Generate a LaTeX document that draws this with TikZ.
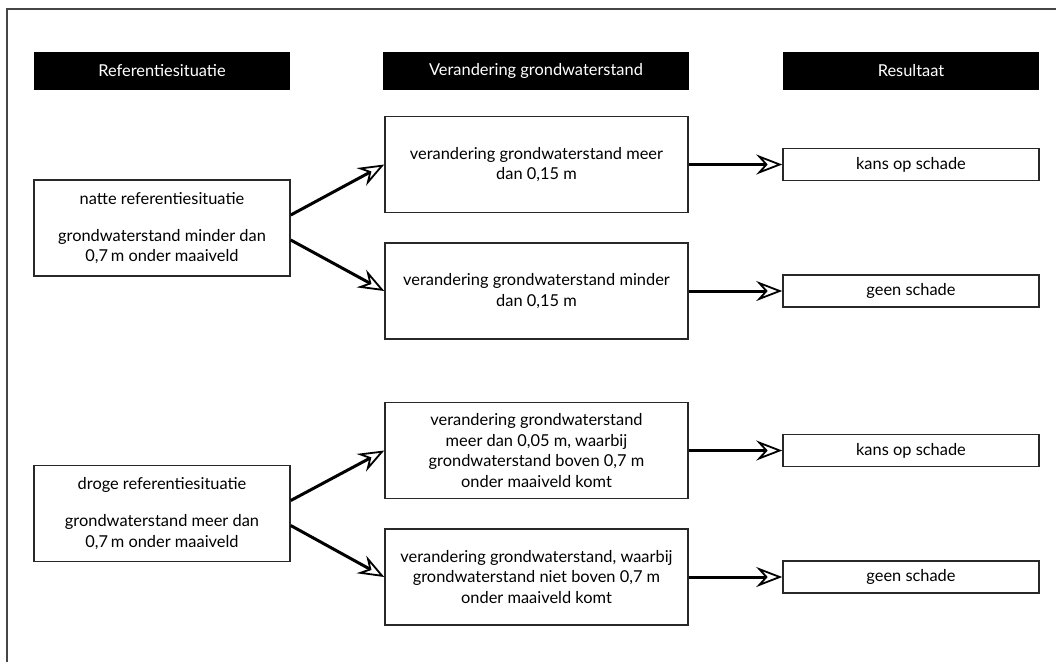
\documentclass[tikz,border=0pt]{standalone}
\usepackage{fontspec}
\setmainfont{Lato}
\usetikzlibrary{arrows.meta,positioning}
\definecolor{framegray}{RGB}{70,70,70}
\definecolor{boxline}{RGB}{40,40,40}

\begin{document}
\begin{tikzpicture}[x=0.5pt,y=-0.5pt,
    headbar/.style={fill=black, text=white, minimum height=19pt, inner sep=0pt,
        font=\fontsize{8.2}{10}\selectfont},
    stepbox/.style={draw=boxline, line width=0.75pt, fill=white, align=center, inner sep=0pt,
        minimum height=48pt, font=\fontsize{8.2}{10.2}\selectfont},
    resultbox/.style={draw=boxline, line width=0.75pt, fill=white, inner sep=0pt,
        minimum width=128pt, minimum height=16pt, font=\fontsize{8.2}{10}\selectfont},
    flow/.style={line width=1.5pt,
        -{Stealth[open, length=13pt, width=10pt, inset=4.5pt, line width=0.9pt]}}
]
\useasboundingbox (0,0) rectangle (1056,661);
\clip (0,0) rectangle (1056,661);
\draw[framegray, line width=1pt] (7,9) rectangle (1100,720);

% kolomkoppen
\node[headbar, minimum width=128pt] (kopref) at (162,71) {Referentiesituatie};
\node[headbar, minimum width=153pt] (kopgw) at (536,71) {Verandering grondwaterstand};
\node[headbar, minimum width=128pt] (kopres) at (911,71) {Resultaat};

% referentiesituaties
\node[stepbox, minimum width=128pt] (natte) at (162,228)
    {natte referentiesituatie\\[8.5pt]grondwaterstand minder dan\\0,7\,m onder maaiveld};
\node[stepbox, minimum width=128pt] (droge) at (162,513.5)
    {droge referentiesituatie\\[8.5pt]grondwaterstand meer dan\\0,7\,m onder maaiveld};

% veranderingen
\node[stepbox, minimum width=151.5pt] (vmeer) at (536.5,164.5)
    {verandering grondwaterstand meer\\dan 0,15 m};
\node[stepbox, minimum width=151.5pt] (vminder) at (536.5,291)
    {verandering grondwaterstand minder\\dan 0,15 m};
\node[stepbox, minimum width=151.5pt] (vboven) at (536.5,450.5)
    {verandering grondwaterstand\\meer dan 0,05 m, waarbij\\grondwaterstand boven 0,7 m\\onder maaiveld komt};
\node[stepbox, minimum width=151.5pt] (vniet) at (536.5,577)
    {verandering grondwaterstand, waarbij\\grondwaterstand niet boven 0,7 m\\onder maaiveld komt};

% resultaten
\node[resultbox] (kans1) at (911,164.5) {kans op schade};
\node[resultbox] (geen1) at (911,291) {geen schade};
\node[resultbox] (kans2) at (911,450.5) {kans op schade};
\node[resultbox] (geen2) at (911,577) {geen schade};

\draw[flow] ([yshift=6.5pt]natte.east) -- (vmeer.west);
\draw[flow] ([yshift=-6pt]natte.east) -- (vminder.west);
\draw[flow] ([yshift=6.5pt]droge.east) -- (vboven.west);
\draw[flow] ([yshift=-6pt]droge.east) -- (vniet.west);

\draw[flow] (vmeer.east) -- (kans1.west);
\draw[flow] (vminder.east) -- (geen1.west);
\draw[flow] (vboven.east) -- (kans2.west);
\draw[flow] (vniet.east) -- (geen2.west);
\end{tikzpicture}
\end{document}
